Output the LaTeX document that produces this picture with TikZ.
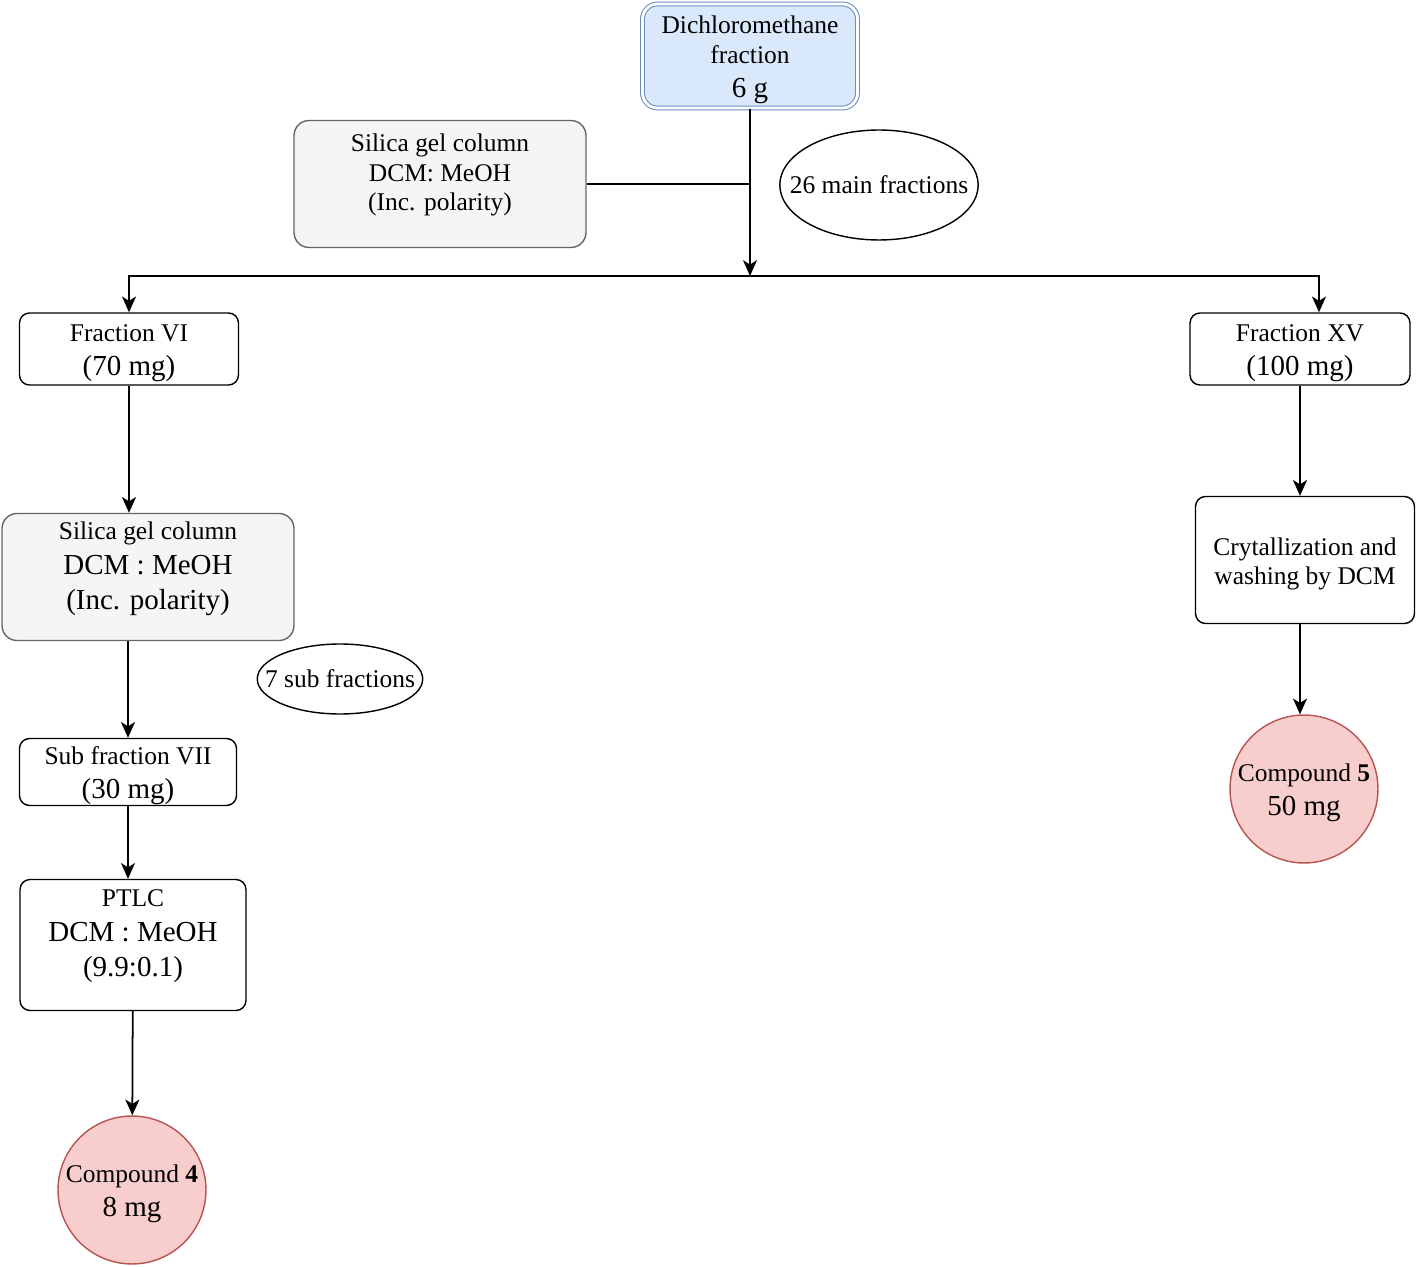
\documentclass[tikz,border=0pt]{standalone}
\usepackage{fontspec}
\setmainfont{Liberation Serif}
\usepackage{tikz}
\usetikzlibrary{arrows.meta,shapes.geometric}

\definecolor{bluefill}{HTML}{DAE8FC}
\definecolor{blueline}{HTML}{6C8EBF}
\definecolor{greyfill}{HTML}{F5F5F5}
\definecolor{greyline}{HTML}{666666}
\definecolor{redfill}{HTML}{F8CECC}
\definecolor{redline}{HTML}{B85450}

\newcommand{\smtxt}{\fontsize{14.5}{17}\selectfont}
\newcommand{\bgtxt}{\fontsize{16.5}{20}\selectfont}
\newcommand{\lowstrut}{\rule{0pt}{14.5pt}}

\begin{document}
\begin{tikzpicture}[
x=0.02cm, y=-0.02cm,
every node/.style={font=\smtxt, align=center, inner sep=0pt},
startbox/.style={draw=blueline, double=white, double distance=1.6pt, line width=0.6pt, fill=bluefill, rounded corners=0.3cm},
column/.style={draw=greyline, fill=greyfill, rounded corners=0.3cm, line width=0.8pt},
fraction/.style={draw, rounded corners=0.2cm, line width=0.8pt},
yield/.style={draw, ellipse, line width=0.8pt},
compound/.style={draw=redline, fill=redfill, circle, minimum size=2.92cm, line width=0.8pt},
link/.style={line width=1pt},
arrow/.style={-{Stealth[length=9pt, width=8pt, inset=2.5pt]}, line width=1pt}
]
\useasboundingbox (0,0) rectangle (1418,1267);

% start: dichloromethane fraction
\node[startbox, minimum width=4.3cm, minimum height=2.08cm] (dcm) at (750,56)
  {\lowstrut Dichloromethane\\ fraction\\[2.5pt] {\bgtxt 6 g}};

% first column
\node[column, minimum width=5.84cm, minimum height=2.54cm,
  label={[yshift=0.18cm]center:{Silica gel column\\ DCM: MeOH\\ (Inc. polarity)}}] (col1) at (440,184) {};
\node[yield, inner xsep=-0.38cm, minimum height=2.2cm] (main26) at (879,185) {26 main fractions};
\coordinate (split) at (750,276);

% main fractions
\node[fraction, minimum width=4.38cm, minimum height=1.44cm] (frac6) at (129,349)
  {\lowstrut Fraction VI\\[2.5pt] {\bgtxt (70 mg)}};
\node[fraction, minimum width=4.4cm, minimum height=1.44cm] (frac15) at (1300,349)
  {\lowstrut Fraction XV\\[2.5pt] {\bgtxt (100 mg)}};

% left branch
\node[column, minimum width=5.84cm, minimum height=2.54cm,
  label={[font=\bgtxt, yshift=0.16cm]center:{{\smtxt Silica gel column}\\ DCM : MeOH\\ (Inc. polarity)}}] (col2) at (148,577) {};
\node[yield, inner xsep=-0.33cm, minimum height=1.4cm] (sub7f) at (340,679) {7 sub fractions};
\node[fraction, minimum width=4.34cm, minimum height=1.34cm] (sub7) at (128,772)
  {\lowstrut Sub fraction VII\\[2.5pt] {\bgtxt (30 mg)}};
\node[fraction, minimum width=4.52cm, minimum height=2.62cm,
  label={[font=\bgtxt, yshift=0.18cm]center:{{\smtxt PTLC}\\ DCM : MeOH\\ (9.9:0.1)}}] (ptlc) at (133,945) {};
\node[compound] (cpd4) at (132,1190) {\lowstrut Compound \textbf{4}\\[2.5pt] {\bgtxt 8 mg}};

% right branch
\node[fraction, minimum width=4.38cm, minimum height=2.54cm] (cryst) at (1305,560)
  {\lowstrut Crytallization and\\ washing by DCM};
\node[compound] (cpd5) at (1304,789) {\lowstrut Compound \textbf{5}\\[2.5pt] {\bgtxt 50 mg}};

% connectors
\draw[link] (col1) -- (col1 -| dcm);
\draw[arrow] (dcm) -- (split);
\draw[arrow] (split) -| (frac6);
\draw[arrow] (split) -| ([xshift=0.38cm]frac15.north);
\draw[arrow] (frac6) -- (frac6 |- col2.north);
\draw[arrow] (col2.south -| sub7) -- (sub7);
\draw[arrow] (sub7) -- (sub7 |- ptlc.north);
\draw[arrow] (ptlc) -- (cpd4);
\draw[arrow] (frac15) -- (frac15 |- cryst.north);
\draw[arrow] (cryst.south -| frac15) -- (frac15 |- cpd5.north);

\end{tikzpicture}
\end{document}
